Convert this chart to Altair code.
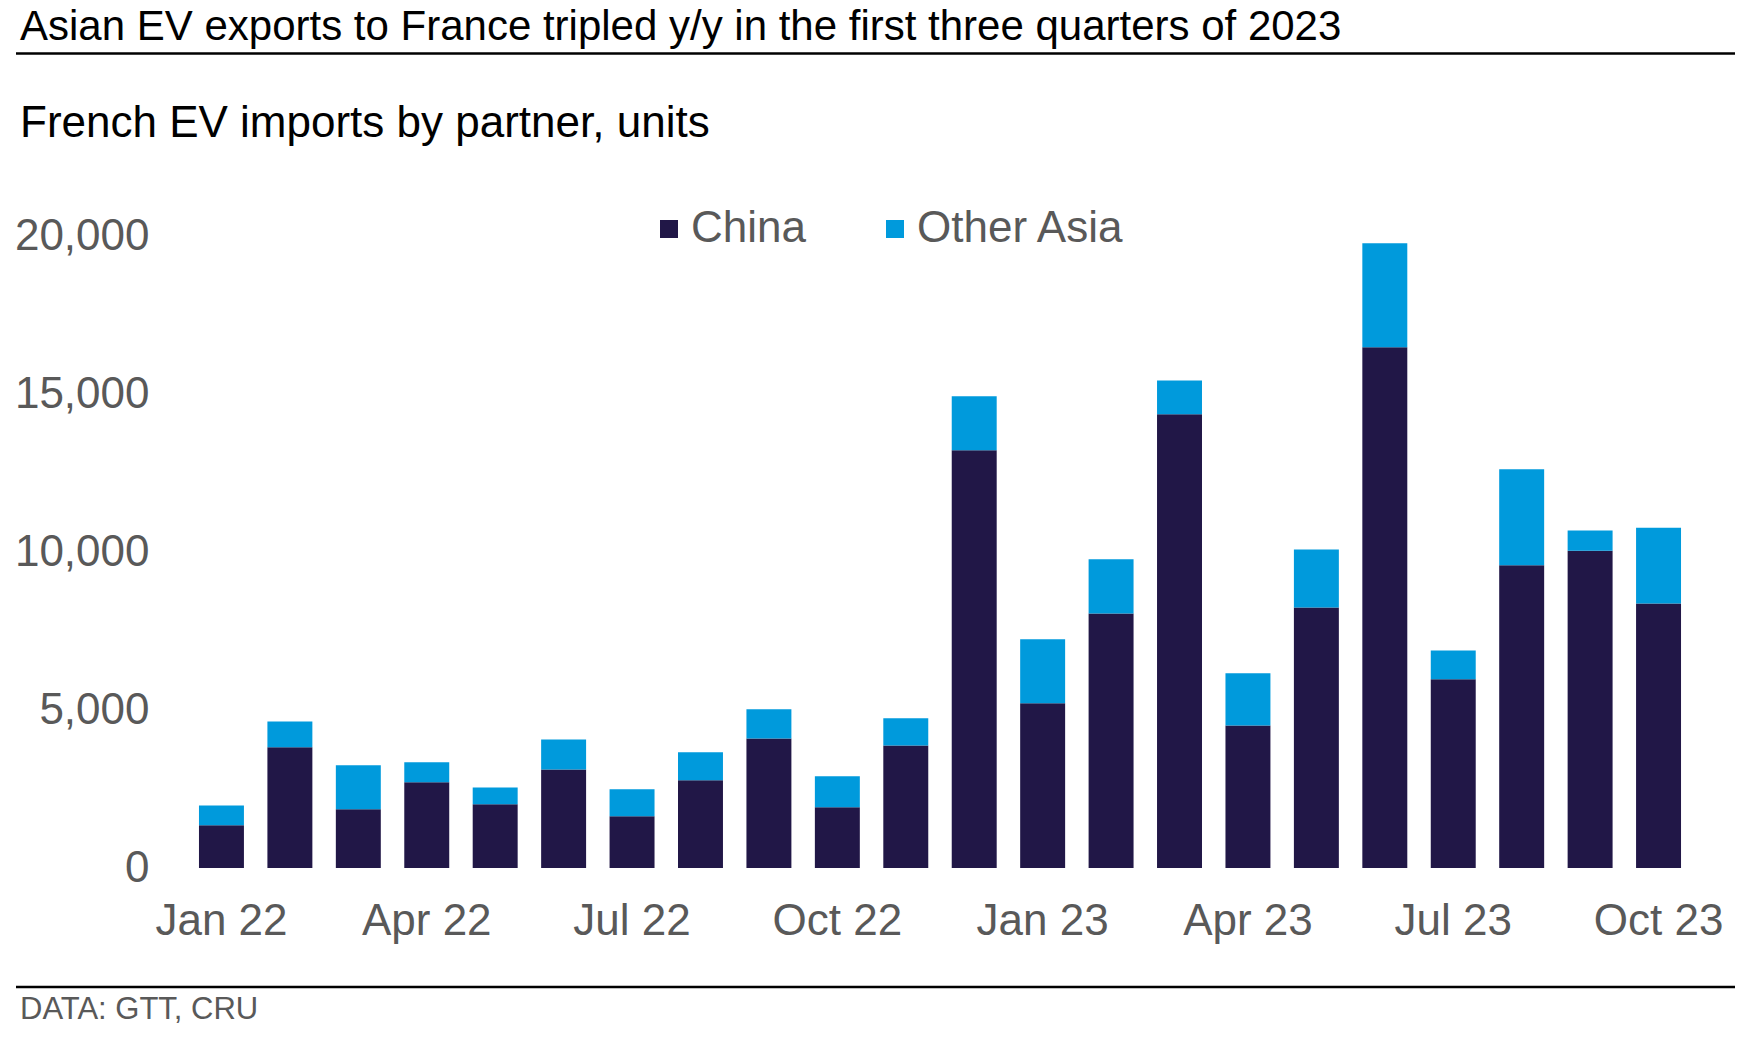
import altair as alt
import pandas as pd

# ---- data ----
months = ["Jan 22", "Feb 22", "Mar 22", "Apr 22", "May 22", "Jun 22", "Jul 22", "Aug 22",
          "Sep 22", "Oct 22", "Nov 22", "Dec 22", "Jan 23", "Feb 23", "Mar 23", "Apr 23",
          "May 23", "Jun 23", "Jul 23", "Aug 23", "Sep 23", "Oct 23"]
china = [1350, 3820, 1860, 2710, 2020, 3120, 1640, 2780, 4100, 1920, 3880, 13220,
         5210, 8050, 14360, 4510, 8240, 16480, 5970, 9580, 10040, 8370]
other_asia = [630, 820, 1390, 640, 530, 950, 850, 880, 920, 980, 860, 1710,
              2030, 1720, 1070, 1650, 1840, 3290, 910, 3040, 640, 2400]
series = ["China", "Other Asia"]
series_colors = ["#211747", "#009ADC"]
x_labels = ["Jan 22", "Apr 22", "Jul 22", "Oct 22", "Jan 23", "Apr 23", "Jul 23", "Oct 23"]
y_ticks = [0, 5000, 10000, 15000, 20000]

title_text = "Asian EV exports to France tripled y/y in the first three quarters of 2023"
subtitle_text = "French EV imports by partner, units"
source_text = "DATA: GTT, CRU"

rows = []
for m, c, o in zip(months, china, other_asia):
    rows.append({"month": m, "partner": series[0], "units": c, "order": 0})
    rows.append({"month": m, "partner": series[1], "units": o, "order": 1})
df = pd.DataFrame(rows)

FONT = "Liberation Sans"
GREY = "#595959"

bars = alt.Chart(df).mark_bar().encode(
    x=alt.X("month:N", sort=months,
            scale=alt.Scale(paddingInner=0.343, paddingOuter=0.175),
            axis=alt.Axis(values=x_labels, labelAngle=0, labelFontSize=44, labelColor=GREY,
                          labelFont=FONT, ticks=False, tickSize=0, domain=False,
                          labelPadding=31.5, title=None, labelBaseline="top")),
    y=alt.Y("units:Q", stack="zero",
            scale=alt.Scale(domain=[0, 20000], nice=False),
            axis=alt.Axis(values=y_ticks, format=",.0f", grid=False, ticks=False, tickSize=0,
                          domain=False, labelFontSize=44, labelColor=GREY, labelFont=FONT,
                          labelPadding=38, title=None)),
    color=alt.Color("partner:N",
                    scale=alt.Scale(domain=series, range=series_colors),
                    legend=alt.Legend(orient="none", legendX=460, legendY=-29,
                                      direction="horizontal", title=None,
                                      symbolType="square", symbolSize=324,
                                      symbolStrokeWidth=0, symbolOpacity=1,
                                      labelFontSize=44, labelColor=GREY, labelFont=FONT,
                                      labelLimit=500, labelOffset=0, columnPadding=67,
                                      padding=0)),
    order=alt.Order("order:Q"),
)

one = pd.DataFrame({"k": [0]})

title = alt.Chart(pd.DataFrame({"t": [title_text]})).mark_text(
    align="left", baseline="alphabetic", fontSize=42, font=FONT, color="black"
).encode(text="t:N", x=alt.value(-167), y=alt.value(-196))

subtitle = alt.Chart(pd.DataFrame({"t": [subtitle_text]})).mark_text(
    align="left", baseline="alphabetic", fontSize=44, font=FONT, color="black"
).encode(text="t:N", x=alt.value(-167), y=alt.value(-99))

source = alt.Chart(pd.DataFrame({"t": [source_text]})).mark_text(
    align="left", baseline="alphabetic", fontSize=31, font=FONT, color=GREY
).encode(text="t:N", x=alt.value(-167), y=alt.value(783))

rule_top = alt.Chart(one).mark_rule(color="black", strokeWidth=2.5).encode(
    x=alt.value(-171), x2=alt.value(1548), y=alt.value(-182.5))
rule_bottom = alt.Chart(one).mark_rule(color="black", strokeWidth=2.5).encode(
    x=alt.value(-171), x2=alt.value(1548), y=alt.value(751))

chart = alt.layer(bars, title, subtitle, source, rule_top, rule_bottom).properties(
    width=1506, height=632,
    padding={"left": 179, "top": 228, "right": 43, "bottom": 158},
    autosize=alt.AutoSizeParams(type="none"),
    background="white",
).configure_view(stroke=None)

chart.save("out.html", embed_options={"renderer": "svg", "actions": False})
